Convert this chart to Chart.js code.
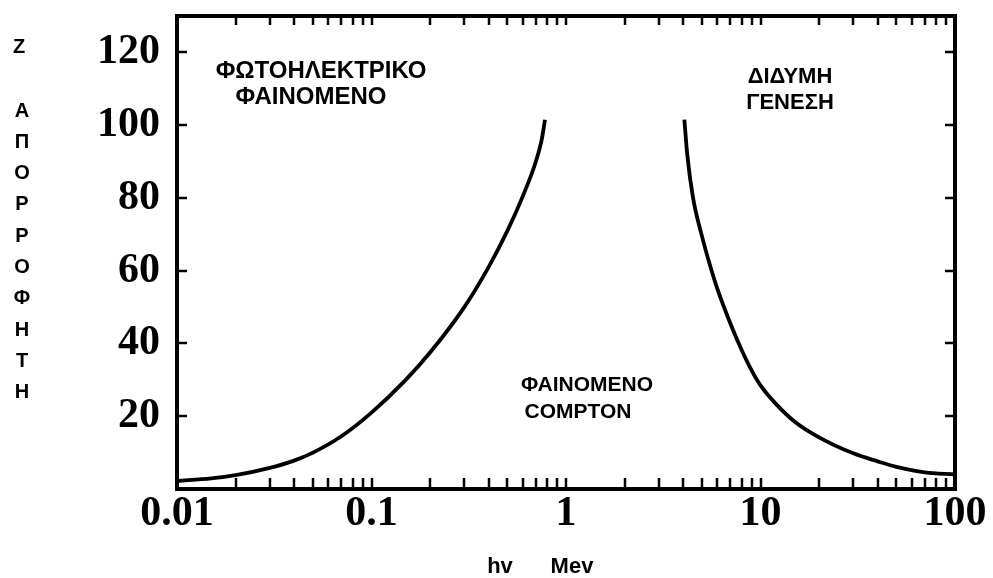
<!DOCTYPE html>
<html>
<head>
<meta charset="utf-8">
<script src="https://cdn.jsdelivr.net/npm/chart.js@4.4.1/dist/chart.umd.min.js"></script>
<style>
  html, body { margin: 0; padding: 0; background: #fff; }
  #wrap { width: 993px; height: 578px; position: relative; }
</style>
</head>
<body>
<div id="wrap"><canvas id="chart" width="993" height="578"></canvas></div>
<script>
// hv (MeV) on a log axis, Z on the vertical axis
const xTickValues = [
    0.01, 0.02, 0.03, 0.04, 0.05, 0.06, 0.07, 0.08, 0.09,
    0.1, 0.2, 0.3, 0.4, 0.5, 0.6, 0.7, 0.8, 0.9,
    1, 2, 3, 4, 5, 6, 7, 8, 9,
    10, 20, 30, 40, 50, 60, 70, 80, 90, 100
];
const xDecades = [0.01, 0.1, 1, 10, 100];
const xLabels  = ['0.01', '0.1', '1', '10', '100'];
const yLabels  = [20, 40, 60, 80, 100, 120];

// photoelectric / Compton boundary
const photoX = [0.01, 0.015, 0.02, 0.03, 0.04, 0.05, 0.07, 0.1, 0.15, 0.2, 0.3, 0.4, 0.5, 0.6, 0.7, 0.75, 0.78];
const photoZ = [2.2, 2.9, 3.8, 5.8, 7.8, 10.0, 14.5, 21, 30, 37.5, 50, 61, 71, 80.5, 90, 96, 101.5];

// Compton / pair production boundary
const pairX = [4.06, 4.2, 4.5, 5, 5.5, 6, 7, 8, 9, 10, 12, 15, 20, 30, 40, 50, 70, 100];
const pairZ = [101.5, 92, 80, 69.5, 61.5, 55, 45.5, 38.2, 32.6, 28.5, 23.4, 18.5, 14.2, 9.8, 7.6, 6.1, 4.6, 4.0];

const zTitle = ['Α', 'Π', 'Ο', 'Ρ', 'Ρ', 'Ο', 'Φ', 'Η', 'Τ', 'Η'];

// region names, pixel anchors for each line
const regionNotes = [
    { text: 'ΦΩΤΟΗΛΕΚΤΡΙΚΟ', x: 321, y: 71, size: 24 },
    { text: 'ΦΑΙΝΟΜΕΝΟ',     x: 311, y: 97, size: 24 },
    { text: 'ΦΑΙΝΟΜΕΝΟ',     x: 587, y: 385, size: 21 },
    { text: 'COMPTON',       x: 578, y: 412, size: 21 },
    { text: 'ΔΙΔΥΜΗ',        x: 790, y: 77, size: 22 },
    { text: 'ΓΕΝΕΣΗ',        x: 790, y: 103, size: 22 }
];

const toPoints = (xs, ys) => xs.map((x, i) => ({ x: x, y: ys[i] }));

const frameAndTicks = {
    id: 'frameAndTicks',
    afterDatasetsDraw(chart) {
        const ctx = chart.ctx;
        const a = chart.chartArea;
        const xs = chart.scales.x, ys = chart.scales.y;
        ctx.save();
        ctx.strokeStyle = '#000';

        // inward tick marks on all four sides
        ctx.lineWidth = 2.5;
        ctx.beginPath();
        xs.ticks.forEach(t => {
            const px = Math.round(xs.getPixelForValue(t.value));
            ctx.moveTo(px, a.bottom); ctx.lineTo(px, a.bottom - 11);
            ctx.moveTo(px, a.top);    ctx.lineTo(px, a.top + 9);
        });
        ys.ticks.forEach(t => {
            const py = Math.round(ys.getPixelForValue(t.value));
            ctx.moveTo(a.left, py);  ctx.lineTo(a.left + 10, py);
            ctx.moveTo(a.right, py); ctx.lineTo(a.right - 10, py);
        });
        ctx.stroke();

        // frame
        ctx.lineWidth = 4;
        ctx.strokeRect(a.left, a.top, a.right - a.left, a.bottom - a.top);

        ctx.fillStyle = '#000';
        ctx.textAlign = 'center';
        ctx.textBaseline = 'middle';
        regionNotes.forEach(n => {
            ctx.font = 'bold ' + n.size + 'px "Liberation Sans", Arial, sans-serif';
            ctx.fillText(n.text, n.x, n.y);
        });

        // axis titles
        ctx.font = 'bold 22px "Liberation Sans", Arial, sans-serif';
        ctx.fillText('hv', 500, 567);
        ctx.fillText('Mev', 572, 567);

        ctx.font = 'bold 20px "Liberation Sans", Arial, sans-serif';
        ctx.fillText('Z', 19, 47);
        zTitle.forEach((c, i) => ctx.fillText(c, 22, 111 + i * 31.3));
        ctx.restore();
    }
};

new Chart(document.getElementById('chart'), {
    type: 'line',
    data: {
        datasets: [
            { data: toPoints(photoX, photoZ) },
            { data: toPoints(pairX, pairZ) }
        ]
    },
    options: {
        responsive: false,
        animation: false,
        layout: { padding: { top: 16, right: 38, left: 0, bottom: 0 } },
        elements: {
            point: { radius: 0 },
            line: { borderColor: '#000', borderWidth: 3.8, cubicInterpolationMode: 'monotone', fill: false }
        },
        plugins: { legend: { display: false }, tooltip: { enabled: false } },
        scales: {
            x: {
                type: 'logarithmic',
                min: 0.01,
                max: 100,
                afterBuildTicks: scale => { scale.ticks = xTickValues.map(v => ({ value: v })); },
                afterFit: scale => { scale.height = 89; },
                grid: { display: false, drawTicks: false },
                border: { display: false },
                ticks: {
                    autoSkip: false,
                    maxRotation: 0,
                    padding: 0,
                    color: '#000',
                    font: { family: '"Liberation Serif", serif', weight: 'bold', size: 42 },
                    callback: value => {
                        const i = xDecades.findIndex(d => Math.abs(d - value) < d * 1e-6);
                        return i >= 0 ? xLabels[i] : '';
                    }
                }
            },
            y: {
                min: 0,
                max: 130,
                afterFit: scale => {
                    scale.width = 177;
                    scale.paddingTop = 0;
                    scale.paddingBottom = 0;
                },
                grid: { display: false, drawTicks: false },
                border: { display: false },
                ticks: {
                    stepSize: 10,
                    padding: 17,
                    color: '#000',
                    font: { family: '"Liberation Serif", serif', weight: 'bold', size: 42 },
                    callback: value => yLabels.includes(value) ? String(value) : ''
                }
            }
        }
    },
    plugins: [frameAndTicks]
});
</script>
</body>
</html>
